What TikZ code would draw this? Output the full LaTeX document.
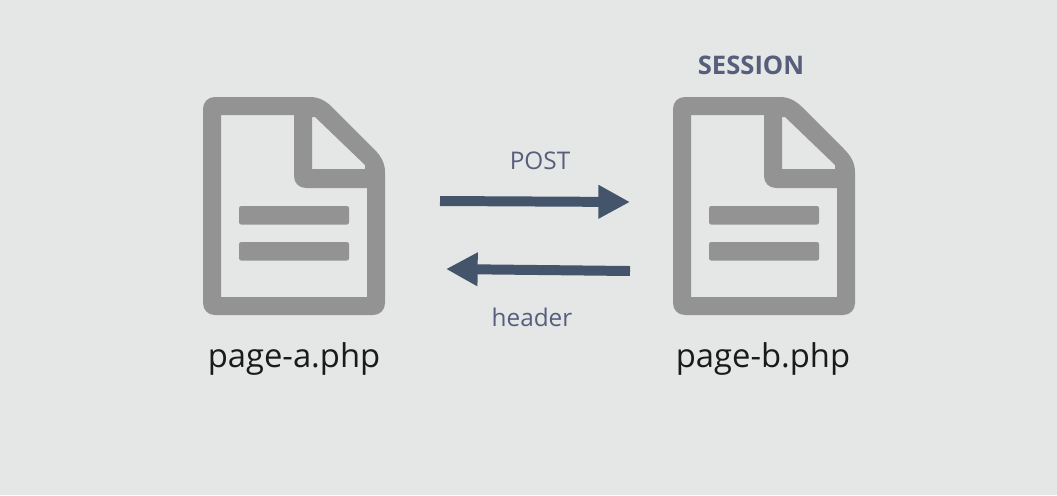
\documentclass[tikz,border=0pt]{standalone}
\usepackage{fontspec}
\setmainfont{Open Sans}
\usetikzlibrary{arrows.meta}
\definecolor{bgray}{HTML}{E5E7E6}
\definecolor{icongray}{HTML}{939393}
\definecolor{arrowblue}{HTML}{44546A}
\definecolor{slatetext}{HTML}{575E7C}
\definecolor{dkgray}{HTML}{1A1A1A}

\tikzset{
  filelabel/.style={font=\fontsize{23.3pt}{28pt}\selectfont, text=dkgray},
  msglabel/.style={font=\fontsize{17.3pt}{21pt}\selectfont, text=slatetext},
  msgarrow/.style={-{Triangle[length=22.5pt, width=22.5pt]}, arrowblue, line width=7.1pt},
  pics/docicon/.style={code={
    % Sheet with folded corner, holes cut by even odd
    \fill[icongray, even odd rule]
      (0,12) .. controls (0,5) and (5,0) .. (12,0) -- (107,0)
      .. controls (116,0) and (123,4) .. (129,10) -- (171,52)
      .. controls (178,59) and (182,66) .. (182,75) -- (182,206)
      .. controls (182,213) and (177,218) .. (170,218) -- (12,218)
      .. controls (5,218) and (0,213) .. (0,206) -- cycle
      (18,18) -- (91,18) -- (91,79)
      .. controls (91,86) and (96,91) .. (103,91) -- (164,91) -- (164,200) -- (18,200) -- cycle
      (109,20) -- (112,20) -- (162,68) -- (162,72) -- (109,72) -- cycle;
    % Text lines
    \foreach \y in {109,145} {
      \fill[icongray, rounded corners=1.5pt] (36,\y) rectangle (146,\y+18.5);
    }
  }}
}

\begin{document}
\begin{tikzpicture}[x=0.025cm, y=-0.025cm]

% Background
\fill[bgray] (0,0) rectangle (1057,495);

% Files
\pic at (203,97) {docicon};
\pic at (673,97) {docicon};
\node[filelabel] (pagea) at (294,359) {page-a.php};
\node[filelabel] (pageb) at (763,359) {page-b.php};
\node[msglabel, font=\fontsize{18.2pt}{22pt}\selectfont\bfseries] (session) at (751,65) {SESSION};

% Messages
\coordinate (poststart) at (440,201);
\coordinate (postend) at (630,202);
\coordinate (headerstart) at (630,271);
\coordinate (headerend) at (446,269);
\draw[msgarrow] (poststart) -- (postend);
\draw[msgarrow] (headerstart) -- (headerend);
\node[msglabel] (post) at (540,161) {POST};
\node[msglabel] (header) at (532,317) {header};

\end{tikzpicture}
\end{document}
